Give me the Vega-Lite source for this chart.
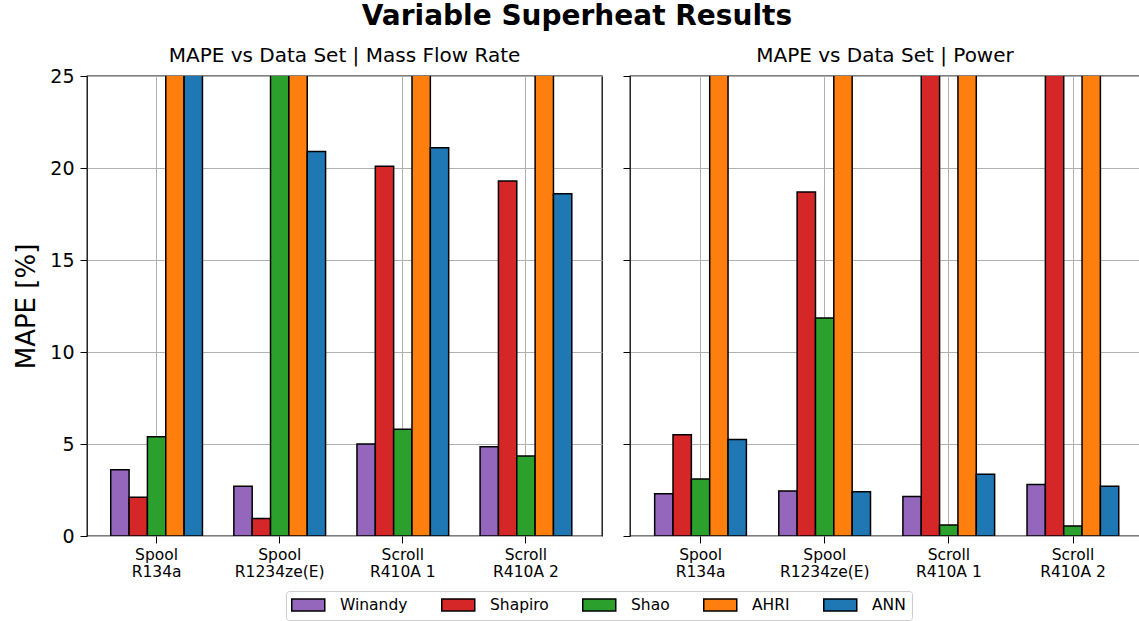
{
  "$schema": "https://vega.github.io/schema/vega-lite/v6.json",
  "background": "white",
  "padding": {"left": 13, "top": 2, "right": 0, "bottom": 2},
  "title": {"text": "Variable Superheat Results", "fontSize": 28, "fontWeight": "bold", "font": "DejaVu Sans", "anchor": "middle", "color": "black", "offset": 14},
  "config": {
    "font": "DejaVu Sans",
    "view": {"stroke": "black", "strokeWidth": 1.3},
    "title": {"color": "black"},
    "axis": {"labelColor": "black", "titleColor": "black", "tickColor": "black", "gridColor": "#b0b0b0", "gridWidth": 1}
  },
  "data": {"values": [
    {"panel": "Mass Flow Rate", "dataset": "Spool R134a", "model": "Winandy", "mape": 3.6},
    {"panel": "Mass Flow Rate", "dataset": "Spool R134a", "model": "Shapiro", "mape": 2.1},
    {"panel": "Mass Flow Rate", "dataset": "Spool R134a", "model": "Shao", "mape": 5.4},
    {"panel": "Mass Flow Rate", "dataset": "Spool R134a", "model": "AHRI", "mape": 30},
    {"panel": "Mass Flow Rate", "dataset": "Spool R134a", "model": "ANN", "mape": 30},
    {"panel": "Mass Flow Rate", "dataset": "Spool R1234ze(E)", "model": "Winandy", "mape": 2.7},
    {"panel": "Mass Flow Rate", "dataset": "Spool R1234ze(E)", "model": "Shapiro", "mape": 0.95},
    {"panel": "Mass Flow Rate", "dataset": "Spool R1234ze(E)", "model": "Shao", "mape": 30},
    {"panel": "Mass Flow Rate", "dataset": "Spool R1234ze(E)", "model": "AHRI", "mape": 30},
    {"panel": "Mass Flow Rate", "dataset": "Spool R1234ze(E)", "model": "ANN", "mape": 20.9},
    {"panel": "Mass Flow Rate", "dataset": "Scroll R410A 1", "model": "Winandy", "mape": 5.0},
    {"panel": "Mass Flow Rate", "dataset": "Scroll R410A 1", "model": "Shapiro", "mape": 20.1},
    {"panel": "Mass Flow Rate", "dataset": "Scroll R410A 1", "model": "Shao", "mape": 5.8},
    {"panel": "Mass Flow Rate", "dataset": "Scroll R410A 1", "model": "AHRI", "mape": 30},
    {"panel": "Mass Flow Rate", "dataset": "Scroll R410A 1", "model": "ANN", "mape": 21.1},
    {"panel": "Mass Flow Rate", "dataset": "Scroll R410A 2", "model": "Winandy", "mape": 4.85},
    {"panel": "Mass Flow Rate", "dataset": "Scroll R410A 2", "model": "Shapiro", "mape": 19.3},
    {"panel": "Mass Flow Rate", "dataset": "Scroll R410A 2", "model": "Shao", "mape": 4.35},
    {"panel": "Mass Flow Rate", "dataset": "Scroll R410A 2", "model": "AHRI", "mape": 30},
    {"panel": "Mass Flow Rate", "dataset": "Scroll R410A 2", "model": "ANN", "mape": 18.6},
    {"panel": "Power", "dataset": "Spool R134a", "model": "Winandy", "mape": 2.3},
    {"panel": "Power", "dataset": "Spool R134a", "model": "Shapiro", "mape": 5.5},
    {"panel": "Power", "dataset": "Spool R134a", "model": "Shao", "mape": 3.1},
    {"panel": "Power", "dataset": "Spool R134a", "model": "AHRI", "mape": 30},
    {"panel": "Power", "dataset": "Spool R134a", "model": "ANN", "mape": 5.25},
    {"panel": "Power", "dataset": "Spool R1234ze(E)", "model": "Winandy", "mape": 2.45},
    {"panel": "Power", "dataset": "Spool R1234ze(E)", "model": "Shapiro", "mape": 18.7},
    {"panel": "Power", "dataset": "Spool R1234ze(E)", "model": "Shao", "mape": 11.85},
    {"panel": "Power", "dataset": "Spool R1234ze(E)", "model": "AHRI", "mape": 30},
    {"panel": "Power", "dataset": "Spool R1234ze(E)", "model": "ANN", "mape": 2.4},
    {"panel": "Power", "dataset": "Scroll R410A 1", "model": "Winandy", "mape": 2.15},
    {"panel": "Power", "dataset": "Scroll R410A 1", "model": "Shapiro", "mape": 30},
    {"panel": "Power", "dataset": "Scroll R410A 1", "model": "Shao", "mape": 0.6},
    {"panel": "Power", "dataset": "Scroll R410A 1", "model": "AHRI", "mape": 30},
    {"panel": "Power", "dataset": "Scroll R410A 1", "model": "ANN", "mape": 3.35},
    {"panel": "Power", "dataset": "Scroll R410A 2", "model": "Winandy", "mape": 2.8},
    {"panel": "Power", "dataset": "Scroll R410A 2", "model": "Shapiro", "mape": 30},
    {"panel": "Power", "dataset": "Scroll R410A 2", "model": "Shao", "mape": 0.55},
    {"panel": "Power", "dataset": "Scroll R410A 2", "model": "AHRI", "mape": 30},
    {"panel": "Power", "dataset": "Scroll R410A 2", "model": "ANN", "mape": 2.7}
  ]},
  "spacing": 18,
  "hconcat": [
    {
      "transform": [{"filter": "datum.panel === 'Mass Flow Rate'"}],
      "title": {"text": "MAPE vs Data Set | Mass Flow Rate", "fontSize": 20, "fontWeight": "normal", "offset": 1, "anchor": "middle", "frame": "group"},
      "width": 515,
      "height": 460,
      "mark": {"type": "bar", "clip": true, "stroke": "black", "strokeWidth": 1.5, "opacity": 1},
      "encoding": {
        "x": {"field": "dataset", "type": "nominal", "sort": ["Spool R134a", "Spool R1234ze(E)", "Scroll R410A 1", "Scroll R410A 2"],
          "scale": {"paddingInner": 0.255, "paddingOuter": 0.219, "align": 0.44},
          "axis": {"title": null, "labelAngle": 0, "labelFontSize": 15.5, "labelLineHeight": 17, "labelPadding": 4, "tickSize": 7, "domain": false, "grid": true, "bandPosition": 0.5,
            "labelExpr": "[substring(datum.label,0,indexof(datum.label,' ')), substring(datum.label,indexof(datum.label,' ')+1)]"}},
        "xOffset": {"field": "model", "type": "nominal", "sort": ["Winandy", "Shapiro", "Shao", "AHRI", "ANN"], "scale": {"paddingInner": 0, "paddingOuter": 0}},
        "y": {"field": "mape", "type": "quantitative", "scale": {"domain": [0, 25], "nice": false},
          "axis": {"title": "MAPE [%]", "titleFontSize": 26, "titleFontWeight": "normal", "titlePadding": 10, "labelFontSize": 19, "values": [0, 5, 10, 15, 20, 25], "tickSize": 7, "labelPadding": 6, "domain": false, "grid": true}},
        "color": {"field": "model", "type": "nominal",
          "scale": {"domain": ["Winandy", "Shapiro", "Shao", "AHRI", "ANN"], "range": ["#9467bd", "#d62728", "#2ca02c", "#ff7f0e", "#1f77b4"]},
          "legend": {"title": null, "orient": "none", "legendX": 199, "legendY": 515, "direction": "horizontal", "columns": 5, "labelFontSize": 15.5, "symbolType": "M-2.75,-1H2.75V1H-2.75Z", "symbolSize": 144, "symbolOffset": 8.5, "symbolStrokeColor": "black", "symbolStrokeWidth": 1.5, "symbolOpacity": 1, "labelOffset": 24, "columnPadding": 30, "padding": 6, "strokeColor": "#cccccc", "cornerRadius": 3, "fillColor": "white"}}
      }
    },
    {
      "transform": [{"filter": "datum.panel === 'Power'"}],
      "title": {"text": "MAPE vs Data Set | Power", "fontSize": 20, "fontWeight": "normal", "offset": 10, "anchor": "middle", "frame": "group"},
      "width": 510,
      "height": 460,
      "mark": {"type": "bar", "clip": true, "stroke": "black", "strokeWidth": 1.5, "opacity": 1},
      "encoding": {
        "x": {"field": "dataset", "type": "nominal", "sort": ["Spool R134a", "Spool R1234ze(E)", "Scroll R410A 1", "Scroll R410A 2"],
          "scale": {"paddingInner": 0.259, "paddingOuter": 0.184, "align": 0.54},
          "axis": {"title": null, "labelAngle": 0, "labelFontSize": 15.5, "labelLineHeight": 17, "labelPadding": 4, "tickSize": 7, "domain": false, "grid": true, "bandPosition": 0.5,
            "labelExpr": "[substring(datum.label,0,indexof(datum.label,' ')), substring(datum.label,indexof(datum.label,' ')+1)]"}},
        "xOffset": {"field": "model", "type": "nominal", "sort": ["Winandy", "Shapiro", "Shao", "AHRI", "ANN"], "scale": {"paddingInner": 0, "paddingOuter": 0}},
        "y": {"field": "mape", "type": "quantitative", "scale": {"domain": [0, 25], "nice": false},
          "axis": {"title": null, "labels": false, "values": [0, 5, 10, 15, 20, 25], "tickSize": 7, "domain": false, "grid": true}},
        "color": {"field": "model", "type": "nominal",
          "scale": {"domain": ["Winandy", "Shapiro", "Shao", "AHRI", "ANN"], "range": ["#9467bd", "#d62728", "#2ca02c", "#ff7f0e", "#1f77b4"]},
          "legend": null}
      }
    }
  ]
}
